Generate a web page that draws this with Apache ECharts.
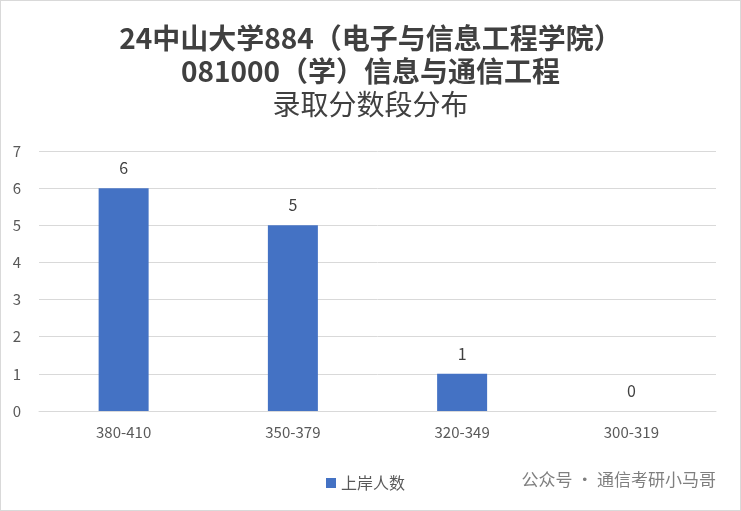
<!DOCTYPE html>
<html><head><meta charset="utf-8">
<script src="https://cdn.jsdelivr.net/npm/echarts@6/dist/echarts.min.js"></script>
<style>html,body{margin:0;padding:0;background:#fff}#c{width:741px;height:511px;box-sizing:border-box;border:1px solid #d9d9d9}</style>
</head><body><div id="c"></div>
<script>
var categories = ['380-410', '350-379', '320-349', '300-319'];
var counts = [6, 5, 1, 0];
var seriesName = '上岸人数';

var chart = echarts.init(document.getElementById('c'));
var font = '"Noto Sans CJK SC", "Liberation Sans", sans-serif';
chart.setOption({
    animation: false,
    textStyle: { fontFamily: font },
    title: {
        text: '{b|24中山大学884（电子与信息工程学院）}\n{b|081000（学）信息与通信工程}\n{n|录取分数段分布}',
        left: 'center', top: 16,
        textStyle: {
            rich: {
                b: { fontSize: 28, fontWeight: 'bold', color: '#404040', lineHeight: 33, fontFamily: font },
                n: { fontSize: 28, fontWeight: 'normal', color: '#404040', lineHeight: 33, fontFamily: font }
            }
        }
    },
    grid: { left: 38, right: 24, top: 150, bottom: 99, containLabel: false },
    xAxis: {
        type: 'category', data: categories,
        axisLine: { lineStyle: { color: '#d9d9d9' } },
        axisTick: { show: false },
        axisLabel: { color: '#595959', fontSize: 15, margin: 14 }
    },
    yAxis: {
        type: 'value', min: 0, max: 7, interval: 1,
        axisLabel: { color: '#595959', fontSize: 15, margin: 18 },
        splitLine: { lineStyle: { color: '#d9d9d9' } }
    },
    legend: {
        data: [seriesName], left: 320, top: 469, itemWidth: 10, itemHeight: 10,
        icon: 'rect', textStyle: { color: '#595959', fontSize: 16 }
    },
    graphic: [{
        type: 'text', right: 24, top: 470,
        style: { text: '公众号 · 通信考研小马哥', fill: '#7f7f7f', font: '17px ' + font }
    }],
    series: [{
        name: seriesName, type: 'bar', data: counts, barWidth: 50,
        itemStyle: { color: '#4472c4' },
        label: { show: true, position: 'top', color: '#404040', fontSize: 16, distance: 12 }
    }]
});
</script></body></html>
